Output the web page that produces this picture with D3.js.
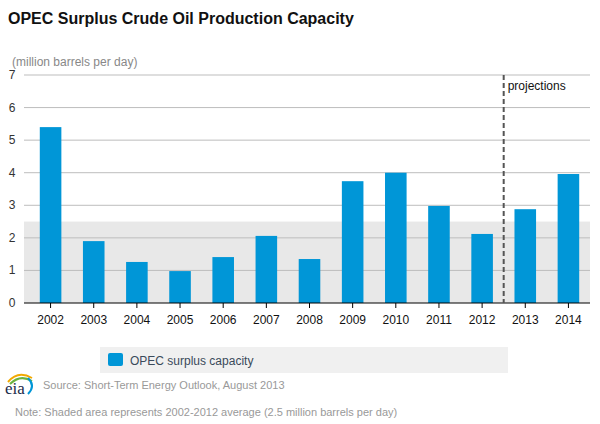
<!DOCTYPE html>
<html>
<head>
<meta charset="utf-8">
<script src="https://cdn.jsdelivr.net/npm/d3@7"></script>
<style>
  body { margin: 0; background: #fff; font-family: "Liberation Sans", Arial, sans-serif; }
</style>
</head>
<body>
<script>
// chart data
const years = ["2002","2003","2004","2005","2006","2007","2008","2009","2010","2011","2012","2013","2014"];
const capacity = [5.4, 1.9, 1.26, 0.98, 1.41, 2.06, 1.35, 3.74, 4.0, 2.98, 2.12, 2.88, 3.96];
const yTicks = [0, 1, 2, 3, 4, 5, 6, 7];
const average = 2.5;

const w = 600, h = 424;
const plotLeft = 24, plotRight = 590, plotTop = 75, plotBottom = 303;

const svg = d3.select("body").append("svg").attr("width", w).attr("height", h);

const x = d3.scaleBand().domain(years).range([29, plotRight]).paddingInner(0.5).paddingOuter(0.25);
const y = d3.scaleLinear().domain([0, 7]).range([plotBottom, plotTop]);

// title
svg.append("text").attr("x", 8).attr("y", 24)
   .attr("font-size", 16).attr("font-weight", "bold").attr("fill", "#111")
   .text("OPEC Surplus Crude Oil Production Capacity");
svg.append("text").attr("x", 12).attr("y", 66)
   .attr("font-size", 12).attr("fill", "#888")
   .text("(million barrels per day)");

// shaded average
svg.append("rect").attr("x", plotLeft).attr("width", plotRight - plotLeft)
   .attr("y", y(average)).attr("height", y(0) - y(average))
   .attr("fill", "#e8e8e8");

// gridlines + labels
svg.append("g").selectAll("line").data(yTicks.slice(1)).enter().append("line")
   .attr("x1", plotLeft).attr("x2", plotRight)
   .attr("y1", d => y(d)).attr("y2", d => y(d))
   .attr("stroke", "#bdbdbd");
svg.append("g").selectAll("text").data(yTicks).enter().append("text")
   .attr("x", 12).attr("y", d => y(d) + 4).attr("text-anchor", "middle")
   .attr("font-size", 12).attr("fill", "#333").text(d => d);

// bars
svg.append("g").selectAll("rect").data(capacity).enter().append("rect")
   .attr("x", (d, i) => x(years[i]))
   .attr("width", x.bandwidth())
   .attr("y", d => y(d))
   .attr("height", d => y(0) - y(d))
   .attr("fill", "#0096d7");

// x axis
const xAxis = d3.axisBottom(x).tickSize(5).tickSizeOuter(0);
const gx = svg.append("g").attr("transform", "translate(0," + plotBottom + ")").call(xAxis);
gx.select(".domain").remove();
gx.append("line").attr("x1", plotLeft).attr("x2", plotRight).attr("stroke", "#000");
gx.selectAll(".tick line").attr("stroke", "#000");
gx.selectAll(".tick text").attr("font-size", 12).attr("fill", "#111")
   .attr("font-family", "Liberation Sans, Arial, sans-serif").attr("dy", "1.1em");

// projections divider
const px = x("2012") + x.bandwidth() + (x.step() - x.bandwidth()) / 2;
svg.append("line").attr("x1", px).attr("x2", px).attr("y1", plotTop).attr("y2", plotBottom)
   .attr("stroke", "#555").attr("stroke-width", 2).attr("stroke-dasharray", "5,3");
svg.append("text").attr("x", px + 4).attr("y", 90)
   .attr("font-size", 12).attr("fill", "#111").text("projections");

// legend
svg.append("rect").attr("x", 100).attr("y", 347).attr("width", 408).attr("height", 26).attr("fill", "#f0f0f0");
svg.append("rect").attr("x", 108).attr("y", 353).attr("width", 15).attr("height", 13).attr("rx", 2).attr("fill", "#0096d7");
svg.append("text").attr("x", 130).attr("y", 365).attr("font-size", 12).attr("fill", "#3a4a5a")
   .text("OPEC surplus capacity");

// eia logo
svg.append("path").attr("d", "M8,382 Q18,370 32,378").attr("fill", "none").attr("stroke", "#f2a900").attr("stroke-width", 2);
svg.append("path").attr("d", "M10,384 Q20,374 32,381").attr("fill", "none").attr("stroke", "#6cb33f").attr("stroke-width", 2);
svg.append("path").attr("d", "M28,378 Q36,386 28,394").attr("fill", "none").attr("stroke", "#0096d7").attr("stroke-width", 2);
svg.append("text").attr("x", 5).attr("y", 394).attr("font-size", 17)
   .attr("font-family", "Liberation Serif, serif").attr("fill", "#1a2a4a").text("eia");

// source & note
svg.append("text").attr("x", 43).attr("y", 389).attr("font-size", 11).attr("fill", "#999")
   .text("Source: Short-Term Energy Outlook, August 2013");
svg.append("text").attr("x", 15).attr("y", 416).attr("font-size", 11).attr("fill", "#999")
   .text("Note: Shaded area represents 2002-2012 average (2.5 million barrels per day)");
</script>
</body>
</html>
